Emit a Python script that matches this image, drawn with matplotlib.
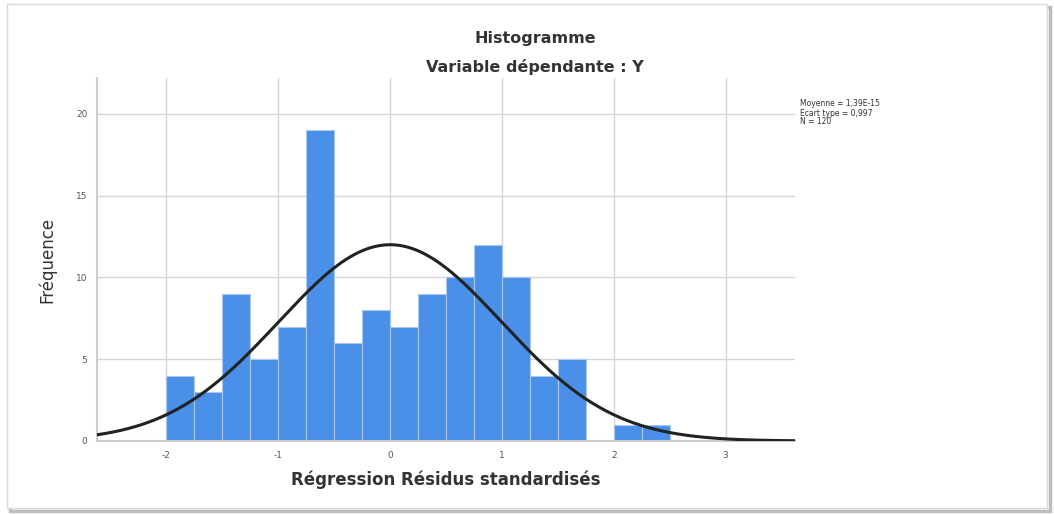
import numpy as np
import matplotlib.pyplot as plt
from matplotlib.patches import Rectangle

plt.rcParams['font.family'] = ['DejaVu Sans']
plt.rcParams['axes.unicode_minus'] = False

# Histogramme des résidus standardisés (largeur de classe 0.25)
bin_edges = [-2.0, -1.75, -1.5, -1.25, -1.0, -0.75, -0.5, -0.25, 0.0,
             0.25, 0.5, 0.75, 1.0, 1.25, 1.5, 1.75, 2.0, 2.25, 2.5]
counts = [4, 3, 9, 5, 7, 19, 6, 8, 7, 9, 10, 12, 10, 4, 5, 0, 1, 1]

moyenne = 1.39e-15
ecart_type = 0.997
n_obs = 120
largeur = 0.25

x_ticks = [-2, -1, 0, 1, 2, 3]
y_ticks = [0, 5, 10, 15, 20]

fig = plt.figure(figsize=(10.54, 5.14), dpi=100)

# cadre gris autour du graphique
fig.patches.append(Rectangle((10/1054, 3/514), 1040/1054, 504/514, transform=fig.transFigure,
                             facecolor='none', edgecolor='#bdbdbd', linewidth=2.5, zorder=-2))
fig.patches.append(Rectangle((7/1054, 6/514), 1040/1054, 504/514, transform=fig.transFigure,
                             facecolor='white', edgecolor='#d9d9d9', linewidth=1, zorder=-1))

ax = fig.add_axes([97/1054, 73/514, 698/1054, 363/514])
ax.patch.set_alpha(0)

lefts = np.array(bin_edges[:-1])
ax.bar(lefts, counts, width=largeur, align='edge', color='#4a8fe8',
       edgecolor='#a9c9f2', linewidth=0.8, zorder=2)

# courbe normale
xs = np.linspace(-2.62, 3.62, 400)
dens = n_obs * largeur / (ecart_type * np.sqrt(2 * np.pi)) * np.exp(-0.5 * ((xs - moyenne) / ecart_type) ** 2)
ax.plot(xs, dens, color='#222222', linewidth=2.2, zorder=3)

ax.set_xlim(-2.62, 3.62)
ax.set_ylim(0, 22.2)
ax.set_xticks(x_ticks)
ax.set_yticks(y_ticks)
ax.tick_params(axis='both', length=0, labelsize=6.5, colors='#555555', pad=7)
ax.grid(True, color='#d6d6d6', linewidth=1, zorder=0)
ax.set_axisbelow(True)
for s in ['top', 'right']:
    ax.spines[s].set_visible(False)
ax.spines['left'].set_color('#cccccc')
ax.spines['bottom'].set_color('#cccccc')
ax.spines['left'].set_linewidth(1.5)
ax.spines['bottom'].set_linewidth(1.5)

ax.set_xlabel("Régression Résidus standardisés", fontsize=12, fontweight='bold',
              color='#333333', labelpad=8)
ax.set_ylabel("Fréquence", fontsize=12, color='#333333', labelpad=14)

fig.text(535/1054, 1 - 38/514, "Histogramme", ha='center', va='center',
         fontsize=11.5, fontweight='bold', color='#333333')
fig.text(535/1054, 1 - 67/514, "Variable dépendante : Y", ha='center', va='center',
         fontsize=11.5, fontweight='bold', color='#333333')

fig.text(800/1054, 1 - 113/514,
         "Moyenne = 1,39E-15\nEcart type = 0,997\nN = %d" % n_obs,
         ha='left', va='center', fontsize=5.5, color='#333333', linespacing=1.0)

fig.savefig("out.png", dpi=100, facecolor='white')
